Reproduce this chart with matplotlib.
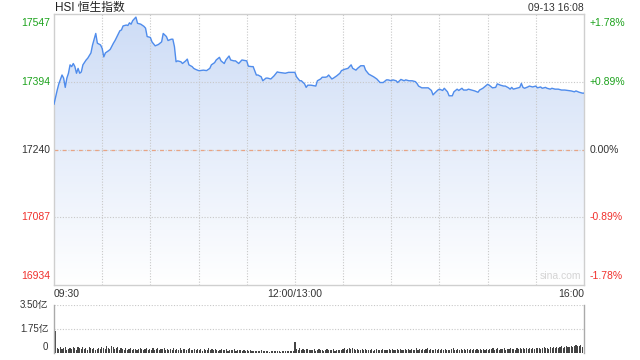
import numpy as np
import matplotlib
matplotlib.use("Agg")
import matplotlib.pyplot as plt
from matplotlib.colors import LinearSegmentedColormap

plt.rcParams['font.family'] = ['Liberation Sans', 'Noto Sans CJK SC']

# trading minutes since 09:30 (12:00 and 13:00 share minute 150)
minutes = [0, 2, 3, 5, 6, 7, 8, 9, 10, 11, 12, 13, 14, 15, 16, 17, 18, 20, 21, 23,
           24, 26, 27, 29, 30, 31, 32, 34, 35, 37, 38, 40, 41, 42, 43, 45, 46, 47, 48, 49,
           51, 52, 54, 56, 57, 58, 60, 61, 63, 65, 67, 68, 70, 71, 73, 74, 75, 76, 77, 79,
           80, 82, 83, 84, 86, 87, 88, 90, 91, 93, 95, 97, 98, 100, 101, 103, 104, 106, 107, 109,
           110, 112, 113, 115, 117, 120, 121, 123, 124, 126, 127, 129, 130, 132, 133, 135, 137, 139, 140, 142,
           144, 146, 148, 150, 151, 153, 154, 156, 157, 158, 160, 163, 164, 166, 167, 169, 170, 171, 173, 174,
           176, 178, 179, 181, 183, 185, 186, 188, 189, 191, 193, 194, 196, 198, 199, 201, 203, 205, 207, 208,
           210, 211, 213, 214, 216, 218, 219, 221, 223, 225, 226, 227, 229, 231, 233, 235, 236, 237, 239, 240,
           242, 243, 245, 246, 248, 249, 251, 252, 254, 255, 257, 258, 260, 262, 264, 265, 267, 268, 270, 271,
           273, 275, 276, 278, 280, 281, 283, 284, 285, 286, 288, 290, 291, 292, 293, 295, 296, 298, 300, 301,
           303, 304, 306, 307, 309, 310, 312, 314, 316, 318, 320, 322, 324, 325, 327, 329, 330]
price = [17343, 17375, 17389, 17409, 17402, 17381, 17402, 17413, 17432, 17428, 17435, 17428, 17413, 17424, 17413, 17416, 17432, 17443, 17447, 17459,
         17477, 17503, 17481, 17477, 17469, 17450, 17459, 17464, 17467, 17481, 17487, 17502, 17509, 17511, 17520, 17522, 17521, 17527, 17524, 17532,
         17540, 17526, 17524, 17519, 17515, 17496, 17494, 17484, 17475, 17478, 17484, 17503, 17496, 17487, 17490, 17490, 17473, 17439, 17441, 17439,
         17435, 17441, 17445, 17432, 17428, 17424, 17422, 17419, 17419, 17420, 17419, 17424, 17432, 17437, 17443, 17449, 17441, 17435, 17443, 17452,
         17443, 17441, 17441, 17435, 17443, 17441, 17429, 17428, 17428, 17409, 17409, 17405, 17396, 17402, 17402, 17400, 17407, 17416, 17415, 17414,
         17413, 17415, 17415, 17415, 17405, 17396, 17396, 17389, 17381, 17386, 17386, 17384, 17396, 17400, 17404, 17404, 17405, 17409, 17400, 17402,
         17407, 17413, 17419, 17422, 17424, 17432, 17424, 17420, 17424, 17430, 17430, 17420, 17411, 17407, 17405, 17400, 17392, 17392, 17398, 17398,
         17396, 17398, 17396, 17392, 17399, 17396, 17398, 17396, 17396, 17394, 17390, 17384, 17380, 17380, 17380, 17374, 17364, 17368, 17375, 17377,
         17374, 17379, 17371, 17362, 17362, 17371, 17377, 17374, 17379, 17375, 17375, 17377, 17375, 17373, 17370, 17375, 17379, 17382, 17388, 17386,
         17380, 17381, 17389, 17386, 17384, 17384, 17380, 17377, 17381, 17377, 17379, 17381, 17390, 17381, 17379, 17382, 17384, 17382, 17384, 17380,
         17382, 17379, 17381, 17379, 17377, 17379, 17377, 17377, 17375, 17375, 17374, 17373, 17371, 17373, 17370, 17368, 17368]

# per-minute turnover, in 亿
volume = [1.62, 0.38, 0.30, 0.42, 0.26, 0.35, 0.45, 0.22, 0.31, 0.40, 0.28, 0.46, 0.33, 0.24, 0.41, 0.36, 0.27, 0.44, 0.30, 0.38,
          0.25, 0.43, 0.35, 0.29, 0.40, 0.22, 0.31, 0.37, 0.26, 0.45, 0.34, 0.28, 0.48, 0.39, 0.30, 0.52, 0.41, 0.27, 0.36, 0.44,
          0.25, 0.33, 0.29, 0.21, 0.35, 0.24, 0.30, 0.38, 0.20, 0.27, 0.32, 0.23, 0.28, 0.40, 0.26, 0.22, 0.31, 0.35, 0.19, 0.28,
          0.24, 0.33, 0.21, 0.29, 0.36, 0.22, 0.30, 0.26, 0.34, 0.20, 0.28, 0.23, 0.31, 0.25, 0.37, 0.21, 0.27, 0.24, 0.33, 0.19,
          0.26, 0.30, 0.22, 0.28, 0.35, 0.20, 0.25, 0.29, 0.23, 0.31, 0.22, 0.27, 0.18, 0.30, 0.24, 0.20, 0.33, 0.21, 0.26, 0.19,
          0.28, 0.23, 0.17, 0.25, 0.29, 0.20, 0.22, 0.27, 0.18, 0.24, 0.21, 0.19, 0.26, 0.16, 0.23, 0.20, 0.25, 0.18, 0.22, 0.17,
          0.19, 0.15, 0.21, 0.14, 0.18, 0.16, 0.12, 0.17, 0.13, 0.19, 0.11, 0.15, 0.13, 0.17, 0.10, 0.14, 0.12, 0.16, 0.11, 0.13,
          0.15, 0.10, 0.14, 0.12, 0.16, 0.11, 0.13, 0.15, 0.12, 0.18, 0.82, 0.30, 0.25, 0.33, 0.22, 0.28, 0.20, 0.26, 0.31, 0.19,
          0.24, 0.21, 0.27, 0.18, 0.23, 0.29, 0.20, 0.25, 0.17, 0.22, 0.26, 0.19, 0.24, 0.21, 0.28, 0.18, 0.23, 0.20, 0.25, 0.22,
          0.27, 0.35, 0.24, 0.30, 0.38, 0.26, 0.33, 0.29, 0.22, 0.31, 0.25, 0.20, 0.28, 0.23, 0.26, 0.19, 0.24, 0.21, 0.27, 0.18,
          0.23, 0.26, 0.20, 0.25, 0.22, 0.28, 0.19, 0.24, 0.21, 0.26, 0.23, 0.29, 0.20, 0.25, 0.32, 0.22, 0.27, 0.19, 0.24, 0.30,
          0.21, 0.26, 0.23, 0.28, 0.20, 0.25, 0.33, 0.22, 0.27, 0.24, 0.29, 0.21, 0.26, 0.35, 0.23, 0.28, 0.20, 0.25, 0.31, 0.22,
          0.26, 0.21, 0.28, 0.24, 0.30, 0.19, 0.25, 0.22, 0.27, 0.33, 0.20, 0.24, 0.29, 0.23, 0.26, 0.21, 0.28, 0.25, 0.31, 0.22,
          0.27, 0.24, 0.30, 0.21, 0.26, 0.23, 0.29, 0.25, 0.32, 0.24, 0.28, 0.23, 0.30, 0.26, 0.33, 0.24, 0.29, 0.36, 0.25, 0.31,
          0.27, 0.34, 0.23, 0.30, 0.26, 0.35, 0.28, 0.32, 0.25, 0.37, 0.29, 0.33, 0.27, 0.36, 0.30, 0.34, 0.28, 0.38, 0.31, 0.35,
          0.30, 0.37, 0.33, 0.40, 0.32, 0.36, 0.42, 0.34, 0.39, 0.31, 0.44, 0.37, 0.41, 0.35, 0.46, 0.39, 0.43, 0.48, 0.38, 0.45,
          0.50, 0.42, 0.47, 0.53, 0.44, 0.51, 0.56, 0.48, 0.54, 0.60, 0.45]

prev_close = 17240
price_ticks = [16934, 17087, 17240, 17394, 17547]
pct_labels = ["-1.78%", "-0.89%", "0.00%", "+0.89%", "+1.78%"]
tick_colors = ["#f0302c", "#f0302c", "#333333", "#1ca21c", "#1ca21c"]
time_labels = ["09:30", "12:00/13:00", "16:00"]
time_pos = [0, 150, 330]
vol_ticks = [0, 1.75, 3.5]
vol_labels = ["0", "1.75亿", "3.50亿"]

grid_c = "#c8c8c8"
spine_c = "#cfcfcf"

fig = plt.figure(figsize=(6.4, 3.6), dpi=100)
ax = fig.add_axes([54 / 640, 1 - 285 / 360, 530 / 640, 271 / 360])
axv = fig.add_axes([54 / 640, 1 - 353 / 360, 530 / 640, 48 / 360])

# main price panel
ax.set_xlim(0, 330)
ax.set_ylim(price_ticks[0], price_ticks[-1])
for m in range(30, 330, 30):
    ax.axvline(m, color=grid_c, lw=0.8, ls=(0, (1, 1.5)), zorder=1)
for p in [price_ticks[1], price_ticks[3]]:
    ax.axhline(p, color=grid_c, lw=0.8, ls=(0, (1, 1.5)), zorder=1)
ax.axhline(prev_close, color=grid_c, lw=0.8, ls=(0, (1, 1.5)), zorder=1)
ax.axhline(prev_close, color="#e8a484", lw=0.9, ls=(0, (3, 3.5)), zorder=1)

cmap = LinearSegmentedColormap.from_list("fade", ["#ffffff", "#cddcf6"])
grad = np.linspace(0, 1, 256).reshape(-1, 1)
img = ax.imshow(grad, cmap=cmap, aspect="auto", origin="lower",
                extent=[0, 330, price_ticks[0], price_ticks[-1]], zorder=0)
poly = ax.fill_between(minutes, price, price_ticks[0], color="none", lw=0)
img.set_clip_path(poly.get_paths()[0], transform=ax.transData)
ax.plot(minutes, price, color="#4f8cec", lw=1.0, zorder=3)

ax.set_xticks([])
ax.set_yticks([])
for s in ax.spines.values():
    s.set_color(spine_c)
    s.set_linewidth(1.0)

for p, lab, c in zip(price_ticks, pct_labels, tick_colors):
    va = "bottom" if p == price_ticks[0] else ("top" if p == price_ticks[-1] else "center")
    off = 3 if p == price_ticks[0] else (-3 if p == price_ticks[-1] else 0)
    ax.annotate(str(p), (0, p), xytext=(-3, off), textcoords="offset points",
                ha="right", va=va, color=c, fontsize=7.5, annotation_clip=False)
    ax.annotate(lab, (330, p), xytext=(4, off), textcoords="offset points",
                ha="left", va=va, color=c, fontsize=7.5, annotation_clip=False)

for pos, lab in zip(time_pos, time_labels):
    ha = "left" if pos == 0 else ("right" if pos == 330 else "center")
    ax.annotate(lab, (pos, price_ticks[0]), xytext=(0, -3), textcoords="offset points",
                ha=ha, va="top", color="#333333", fontsize=7.5, annotation_clip=False)

ax.text(0.995, 0.015, "sina.com", transform=ax.transAxes, ha="right", va="bottom",
        color="#d4d4d4", fontsize=7.5)
fig.text(55 / 640, 1 - 8 / 360, "HSI 恒生指数", ha="left", va="center",
         color="#222222", fontsize=8.5)
fig.text(584 / 640, 1 - 8 / 360, "09-13 16:08", ha="right", va="center",
         color="#333333", fontsize=7.5)

# volume panel
axv.set_xlim(-1, 331)
axv.set_ylim(0, 3.5)
axv.bar(np.arange(len(volume)), volume, width=0.7, color="#444444", lw=0)
for v in vol_ticks[1:]:
    axv.axhline(v, color=grid_c, lw=0.8, ls=(0, (1, 1.5)), zorder=0)
axv.set_xticks([])
axv.set_yticks([])
for side in ["top", "bottom"]:
    axv.spines[side].set_visible(False)
for side in ["left", "right"]:
    axv.spines[side].set_color("#aaaaaa")
    axv.spines[side].set_linewidth(1.0)
for v, lab in zip(vol_ticks, vol_labels):
    off = 4 if v == 0 else 0
    axv.annotate(lab, (-1, v), xytext=(-4, off), textcoords="offset points",
                 ha="right", va="center", color="#333333", fontsize=7, annotation_clip=False)

fig.savefig("out.png", dpi=100)
